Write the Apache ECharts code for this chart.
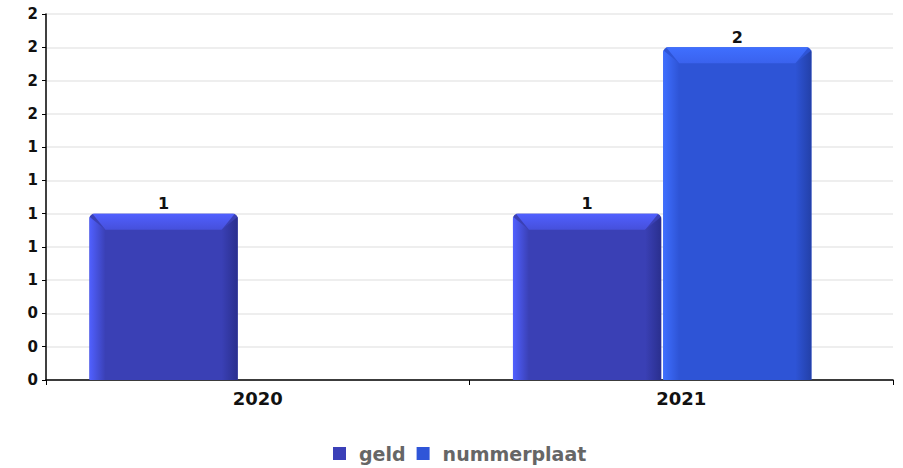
<!DOCTYPE html>
<html><head><meta charset="utf-8">
<script src="https://cdn.jsdelivr.net/npm/echarts@6/dist/echarts.min.js"></script>
<style>html,body{margin:0;padding:0;background:#fff}#c{width:903px;height:468px}</style>
</head><body><div id="c"></div>
<script>
const categories = ['2020', '2021'];
const geld = [1, 1];
const nummerplaat = [null, 2];
const seriesNames = ['geld', 'nummerplaat'];
const yTicks = { min: 0, max: 2.2, interval: 0.2 };

const palette = [
  { base: '#3a40b5', light: '#5060ff', top: '#4650dc', dark: '#2a2f8e', legend: '#3b40b8' },
  { base: '#2e54d6', light: '#3f6fff', top: '#3a62ee', dark: '#2340a8', legend: '#2f55d8' }
];

function makeRender(si) {
  return function (params, api) {
    const v = api.value(1);
    if (v === null || v === undefined || isNaN(v)) return;
    const idx = api.value(0);
    const c = api.coord([idx, v]);
    const c0 = api.coord([idx, 0]);
    const band = api.size([1, 0])[0];
    const w = band * 0.35;
    const gc = c[0] - band * 0.045;
    const x0 = si === 0 ? gc - w - 1 : gc + 1;
    const yT = c[1], yB = c0[1], h = yB - yT;
    const b = 16;
    const p = palette[si];
    return {
      type: 'group',
      children: [
        { type: 'rect', shape: { x: x0, y: yT, width: w, height: h, r: [5, 5, 0, 0] }, style: { fill: p.base } },
        { type: 'polygon', shape: { points: [[x0, yT + 3], [x0 + b, yT + b], [x0 + b, yB], [x0, yB]] },
          style: { fill: new echarts.graphic.LinearGradient(0, 0, 1, 0, [{ offset: 0, color: p.light }, { offset: 1, color: p.base }]) } },
        { type: 'polygon', shape: { points: [[x0 + 3, yT], [x0 + w - 3, yT], [x0 + w - b, yT + b], [x0 + b, yT + b]] },
          style: { fill: new echarts.graphic.LinearGradient(0, 0, 0, 1, [{ offset: 0, color: p.light }, { offset: 1, color: p.top }]) } },
        { type: 'polygon', shape: { points: [[x0 + w, yT + 3], [x0 + w, yB], [x0 + w - b, yB], [x0 + w - b, yT + b]] },
          style: { fill: new echarts.graphic.LinearGradient(0, 0, 1, 0, [{ offset: 0, color: p.base }, { offset: 1, color: p.dark }]) } },
        { type: 'text', x: x0 + w / 2, y: yT - 2,
          style: { text: String(v), fill: '#111', font: 'bold 16px "DejaVu Sans"', align: 'center', verticalAlign: 'bottom' } }
      ]
    };
  };
}

const chart = echarts.init(document.getElementById('c'), null, { renderer: 'svg' });
chart.setOption({
  animation: false,
  backgroundColor: '#fff',
  grid: { left: 46, right: 10, top: 14, bottom: 88, containLabel: false },
  legend: {
    bottom: 0, left: 328, itemWidth: 13, itemHeight: 13, itemGap: 11, icon: 'rect',
    textStyle: { color: '#666', fontFamily: 'DejaVu Sans', fontWeight: 'bold', fontSize: 19, padding: [0, 0, 0, 8] },
    data: seriesNames.map((n, i) => ({ name: n, itemStyle: { color: palette[i].legend } }))
  },
  xAxis: {
    type: 'category', data: categories, boundaryGap: true,
    axisLine: { lineStyle: { color: '#000', width: 1.5 } },
    axisTick: { show: true, length: 5, lineStyle: { color: '#000' } },
    axisLabel: { color: '#111', fontFamily: 'DejaVu Sans', fontWeight: 'bold', fontSize: 18, margin: 9 },
    splitLine: { show: false }
  },
  yAxis: {
    type: 'value', min: yTicks.min, max: yTicks.max, interval: yTicks.interval,
    axisLine: { show: true, lineStyle: { color: '#000', width: 1.5 } },
    axisTick: { show: true, length: 4, lineStyle: { color: '#000' } },
    axisLabel: { color: '#111', fontFamily: 'DejaVu Sans', fontWeight: 'bold', fontSize: 15, margin: 8,
      formatter: v => String(Math.round(v)) },
    splitLine: { lineStyle: { color: '#e8e8e8', width: 1.5 } }
  },
  series: [
    { name: seriesNames[0], type: 'custom', renderItem: makeRender(0), itemStyle: { color: palette[0].legend },
      data: categories.map((c, i) => [i, geld[i]]), encode: { x: 0, y: 1 } },
    { name: seriesNames[1], type: 'custom', renderItem: makeRender(1), itemStyle: { color: palette[1].legend },
      data: categories.map((c, i) => [i, nummerplaat[i]]), encode: { x: 0, y: 1 } }
  ]
});
</script></body></html>
